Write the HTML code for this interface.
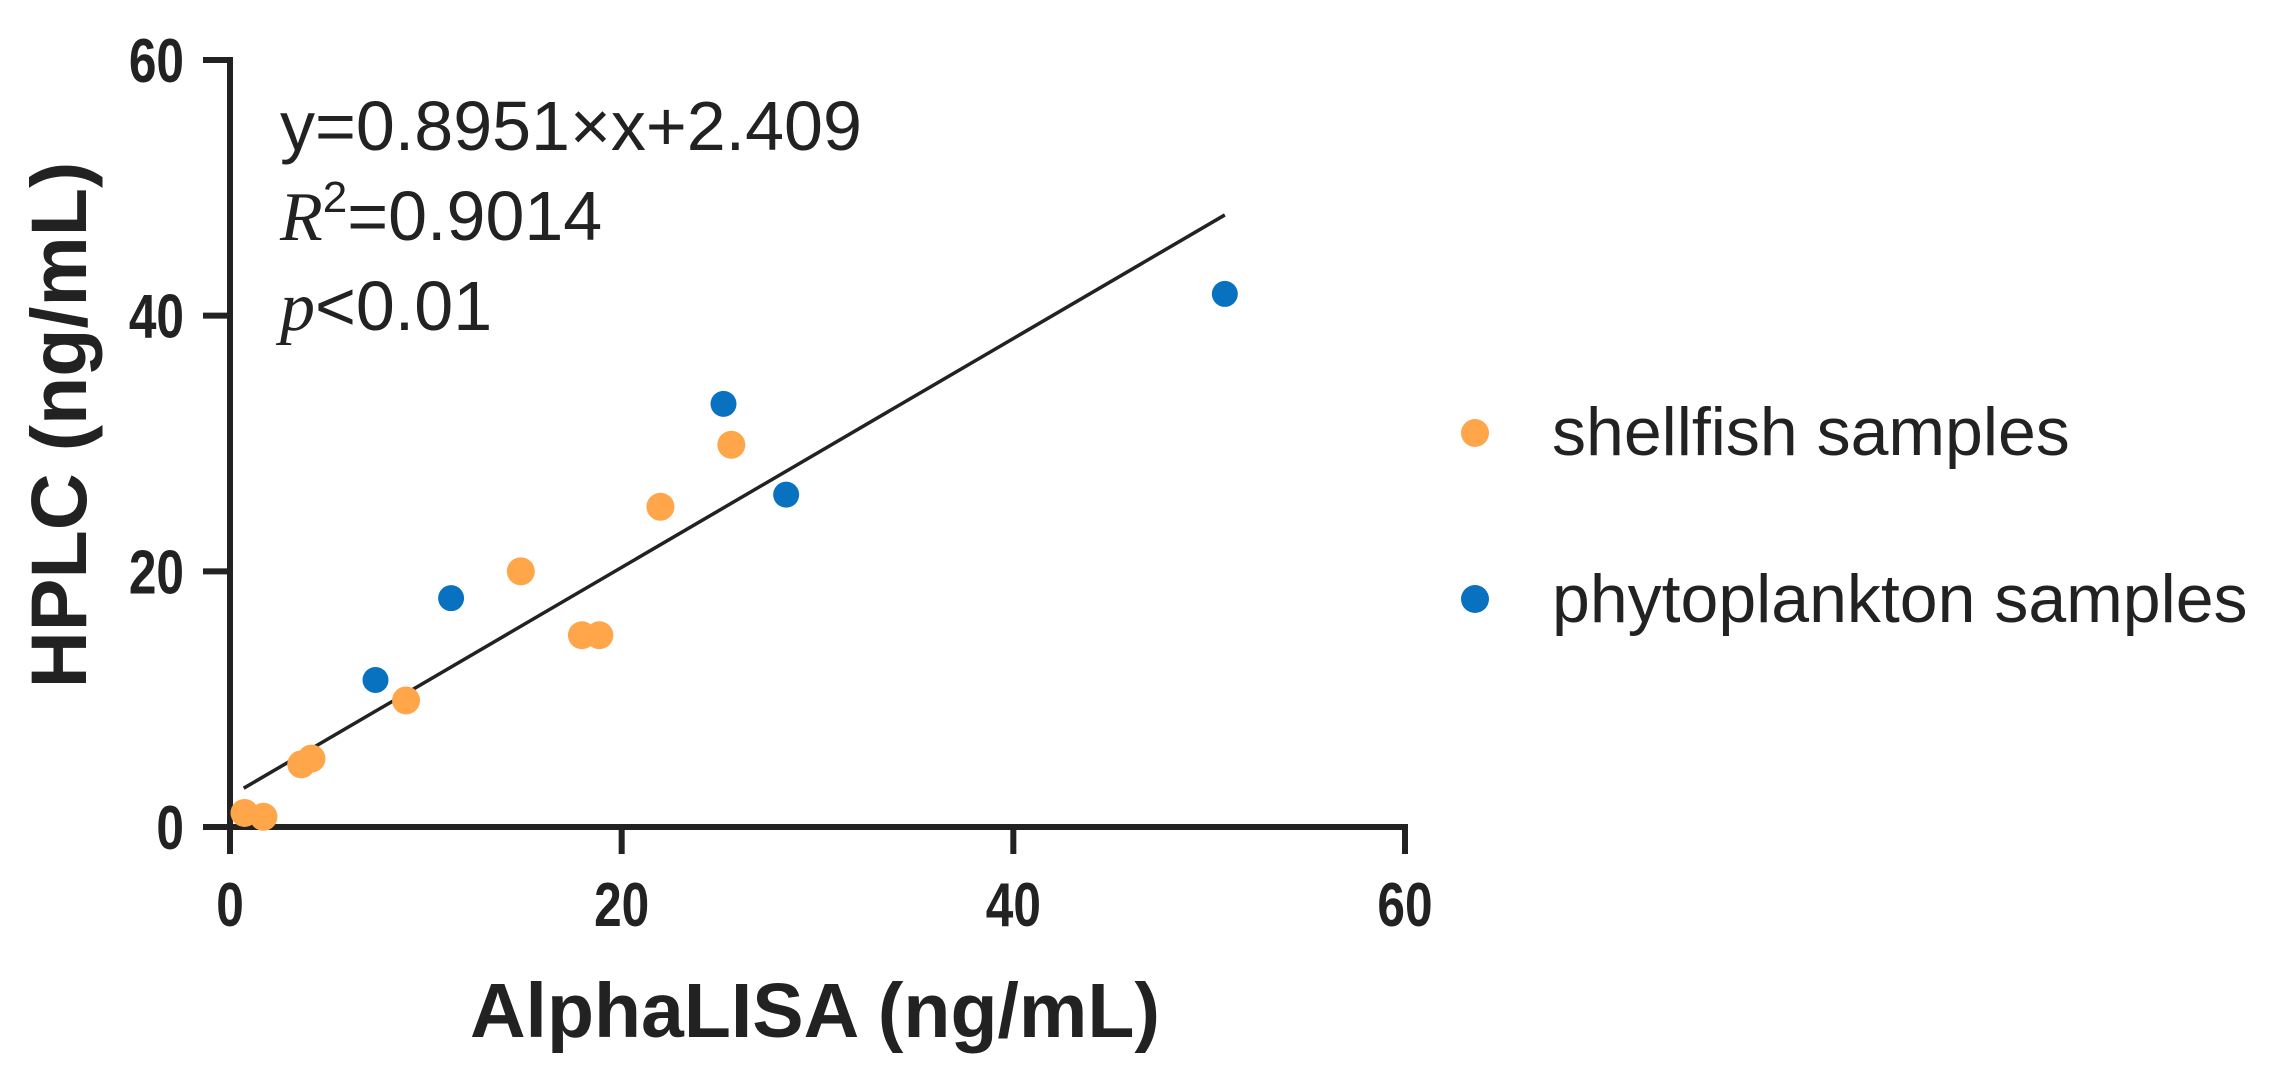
<!DOCTYPE html>
<html><head><meta charset="utf-8"><style>
html,body{margin:0;padding:0;background:#fff;}
svg{display:block;font-family:"Liberation Sans",Arial,sans-serif;}
</style></head><body>
<svg id="chart" width="2278" height="1078" viewBox="0 0 2278 1078">
<g id="axes"></g>
<g id="line"></g>
<g id="marks"></g>
<g fill="#222" font-size="70">
<text x="280" y="150">y=0.8951×x+2.409</text>
<text x="280" y="240"><tspan font-family="Liberation Serif" font-style="italic">R</tspan><tspan font-size="44" dy="-28">2</tspan><tspan dy="28">=0.9014</tspan></text>
<text x="280" y="330"><tspan font-family="Liberation Serif" font-style="italic">p</tspan>&lt;0.01</text>
</g>
<g font-size="68" fill="#222">
<circle cx="1475" cy="433" r="14" fill="#FFA54A"/>
<text x="1552" y="455">shellfish samples</text>
<circle cx="1475" cy="599" r="14" fill="#0872C0"/>
<text x="1552" y="622">phytoplankton samples</text>
</g>
<text x="815" y="1037" text-anchor="middle" font-size="77" font-weight="bold" fill="#222">AlphaLISA (ng/mL)</text>
<text transform="translate(86,425) rotate(-90)" text-anchor="middle" font-size="79" font-weight="bold" fill="#222">HPLC (ng/mL)</text>
</svg>
<script>
const xTicks=[0,20,40,60];
const yTicks=[0,20,40,60];
const shellX=[0.74,1.71,3.64,4.16,8.99,14.85,17.97,18.86,21.98,25.6];
const shellY=[1.1,0.8,4.9,5.35,9.9,20.0,15.0,15.0,25.05,29.9];
const phytoX=[7.43,11.29,25.2,28.4,50.8];
const phytoY=[11.5,17.9,33.1,26.0,41.7];
const slope=[0.8951];
const intercept=[2.409];
const lineRange=[0.7,50.8];
const NS='http://www.w3.org/2000/svg';
const X0=230,X1=1405,Y0=827,Y1=60;
const sx=v=>X0+(v-0)/60*(X1-X0);
const sy=v=>Y0-(v-0)/60*(Y0-Y1);
function mk(tag,attrs,parent){const e=document.createElementNS(NS,tag);for(const k in attrs)e.setAttribute(k,attrs[k]);parent.appendChild(e);return e;}
const axes=document.getElementById('axes');
let a=mk('line',{x1:X0,y1:Y1-3,x2:X0,y2:Y0+3,stroke:'#222','stroke-width':6},axes);


a=mk('line',{x1:X0-3,y1:Y0,x2:X1+3,y2:Y0,stroke:'#222','stroke-width':6},axes);


xTicks.forEach(t=>{
 const l=mk('line',{x1:sx(t),y1:Y0,x2:sx(t),y2:Y0+27,stroke:'#222','stroke-width':6},axes);
 
 
 const tx=mk('text',{transform:'translate('+sx(t)+',926) scale(0.8,1)','text-anchor':'middle','font-size':62,'font-weight':'bold',fill:'#222'},axes);
 tx.textContent=t;
 
 
});
yTicks.forEach(t=>{
 const l=mk('line',{x1:X0-27,y1:sy(t),x2:X0,y2:sy(t),stroke:'#222','stroke-width':6},axes);
 
 
 const tx=mk('text',{transform:'translate(184,'+(sy(t)+22)+') scale(0.8,1)','text-anchor':'end','font-size':62,'font-weight':'bold',fill:'#222'},axes);
 tx.textContent=t;
 
 
});
const lg=document.getElementById('line');
const rl=mk('line',{x1:sx(lineRange[0]),y1:sy(slope[0]*lineRange[0]+intercept[0]),x2:sx(lineRange[1]),y2:sy(slope[0]*lineRange[1]+intercept[0]),stroke:'#222','stroke-width':3.5},lg);


const mg=document.getElementById('marks');
shellX.forEach((x,i)=>{
 const c=mk('circle',{cx:sx(x),cy:sy(shellY[i]),r:14,fill:'#FFA54A'},mg);
 
 
});
phytoX.forEach((x,i)=>{
 const c=mk('circle',{cx:sx(x),cy:sy(phytoY[i]),r:13,fill:'#0872C0'},mg);
 
 
});
</script>
</body></html>
